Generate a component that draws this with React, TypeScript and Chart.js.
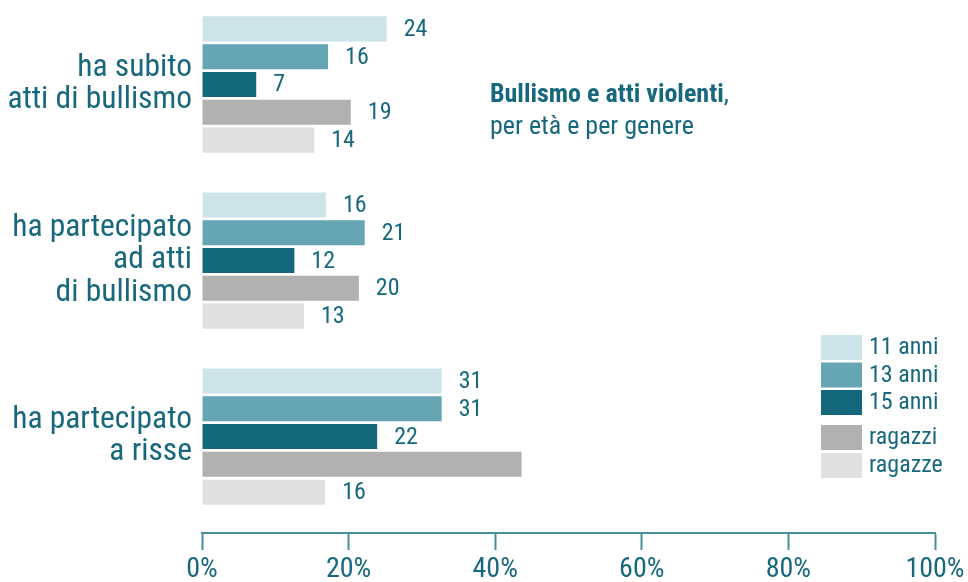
import React, { useEffect, useRef } from "react";
import { Chart, registerables } from "chart.js";

Chart.register(...registerables);

const categories: string[][] = [
  ["ha subito", "atti di bullismo"],
  ["ha partecipato", "ad atti", "di bullismo"],
  ["ha partecipato", "a risse"],
];
const categoryIndex = [0, 1, 2];

const seriesNames = ["11 anni", "13 anni", "15 anni", "ragazzi", "ragazze"];
const seriesColors = ["#cce3ea", "#66a5b4", "#13687c", "#b0b1b0", "#e0e0e0"];

// bar lengths (percent)
const anni11 = [25.2, 16.9, 32.7];
const anni13 = [17.2, 22.2, 32.7];
const anni15 = [7.4, 12.6, 23.9];
const ragazzi = [20.3, 21.4, 43.6];
const ragazze = [15.3, 13.9, 16.8];

// printed value labels
const anni11Labels = ["24", "16", "31"];
const anni13Labels = ["16", "21", "31"];
const anni15Labels = ["7", "12", "22"];
const ragazziLabels = ["19", "20", ""];
const ragazzeLabels = ["14", "13", "16"];

const xTicks = [0, 20, 40, 60, 80, 100];

const titleBold = "Bullismo e atti violenti";
const titleRest = ",";
const subtitle = "per età e per genere";

const TEXT = "#17687e";
const AXIS = "#4a8d9d";
const FONT = "'Roboto Condensed', 'Roboto', sans-serif";

export default function App() {
  const ref = useRef<HTMLCanvasElement | null>(null);

  useEffect(() => {
    document.body.style.margin = "0";
    const canvas = ref.current;
    if (!canvas) return;

    const allValues = [anni11, anni13, anni15, ragazzi, ragazze];
    const allLabels = [anni11Labels, anni13Labels, anni15Labels, ragazziLabels, ragazzeLabels];

    const decorations = {
      id: "decorations",
      afterDatasetsDraw(chart: any) {
        const ctx = chart.ctx as CanvasRenderingContext2D;
        ctx.save();
        // value labels
        ctx.fillStyle = TEXT;
        ctx.font = `24px ${FONT}`;
        ctx.textAlign = "left";
        ctx.textBaseline = "middle";
        chart.data.datasets.forEach((ds: any, di: number) => {
          const meta = chart.getDatasetMeta(di);
          meta.data.forEach((bar: any, i: number) => {
            const t = allLabels[di][i];
            if (t) ctx.fillText(t, bar.x + 17, bar.y + 1);
          });
        });

        // title
        ctx.textBaseline = "alphabetic";
        ctx.font = `bold 26px ${FONT}`;
        ctx.fillText(titleBold, 490, 102);
        const w = ctx.measureText(titleBold).width;
        ctx.font = `26px ${FONT}`;
        ctx.fillText(titleRest, 490 + w, 102);
        ctx.fillText(subtitle, 490, 134);

        // legend
        const tops = [335, 362.5, 390, 425, 453];
        ctx.font = `24px ${FONT}`;
        ctx.textBaseline = "middle";
        seriesNames.forEach((name, i) => {
          ctx.fillStyle = seriesColors[i];
          ctx.fillRect(821, tops[i], 41, 25);
          ctx.fillStyle = TEXT;
          ctx.fillText(name, 869, tops[i] + 13);
        });
        ctx.restore();
      },
    };

    const chart = new Chart(canvas, {
      type: "bar",
      data: {
        labels: categoryIndex,
        datasets: seriesNames.map((name, i) => ({
          label: name,
          data: allValues[i],
          backgroundColor: seriesColors[i],
          borderWidth: 0,
          categoryPercentage: 0.79,
          barPercentage: 0.9,
        })),
      },
      options: {
        indexAxis: "y",
        animation: false,
        responsive: false,
        layout: { padding: { left: 0, right: 33, top: 0, bottom: 0 } },
        plugins: {
          legend: { display: false },
          tooltip: { enabled: false },
          title: { display: false },
        },
        scales: {
          y: {
            type: "linear",
            reverse: true,
            offset: false,
            min: -0.48,
            max: 2.548,
            grid: { display: false, drawTicks: false },
            border: { display: false },
            afterBuildTicks: (axis: any) => {
              axis.ticks = categoryIndex.map((v) => ({ value: v }));
            },
            afterFit: (scale: any) => {
              scale.width = 202;
              scale.paddingTop = 0;
              scale.paddingBottom = 0;
            },
            ticks: {
              autoSkip: false,
              padding: 10,
              color: TEXT,
              font: { family: FONT, size: 31.5, lineHeight: 1.02 },
              callback: (v: any) => categories[v as number] ?? "",
            },
          },
          x: {
            type: "linear",
            min: 0,
            max: 100,
            afterBuildTicks: (axis: any) => {
              axis.ticks = xTicks.map((v) => ({ value: v }));
            },
            afterFit: (scale: any) => {
              scale.height = 49;
            },
            grid: {
              display: true,
              drawOnChartArea: false,
              drawTicks: true,
              tickLength: 17,
              tickColor: AXIS,
              tickWidth: 2,
            },
            border: { display: true, color: AXIS, width: 2 },
            ticks: {
              padding: 3,
              color: TEXT,
              font: { family: FONT, size: 28 },
              callback: (v: any) => `${v}%`,
            },
          },
        },
      },
      plugins: [decorations],
    });

    return () => chart.destroy();
  }, []);

  return (
    <div style={{ position: "absolute", left: 0, top: 0, width: 968, height: 582 }}>
      <canvas ref={ref} width={968} height={582} />
    </div>
  );
}
